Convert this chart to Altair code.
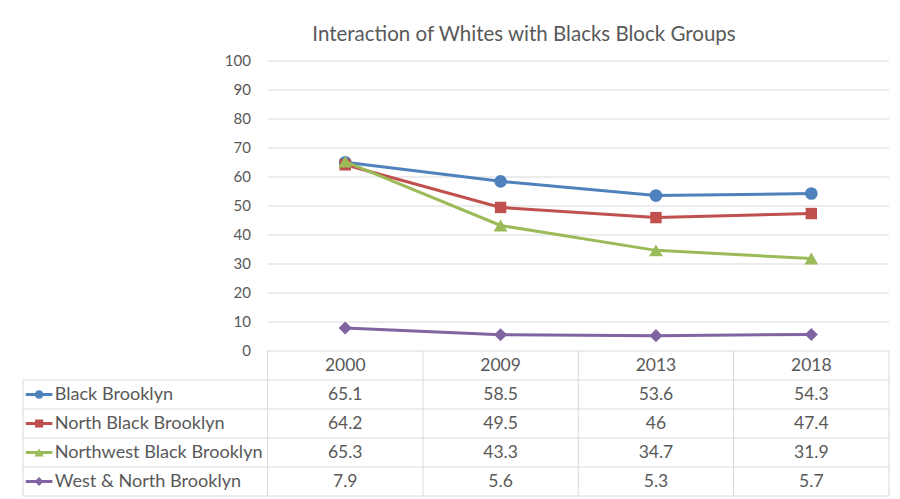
import altair as alt
import pandas as pd

# ---- data ----
years = ["2000", "2009", "2013", "2018"]
series = ["Black Brooklyn", "North Black Brooklyn", "Northwest Black Brooklyn", "West & North Brooklyn"]
black_brooklyn = [65.1, 58.5, 53.6, 54.3]
north_black_brooklyn = [64.2, 49.5, 46, 47.4]
northwest_black_brooklyn = [65.3, 43.3, 34.7, 31.9]
west_north_brooklyn = [7.9, 5.6, 5.3, 5.7]
y_ticks = [0, 10, 20, 30, 40, 50, 60, 70, 80, 90, 100]
title_text = "Interaction of Whites with Blacks Block Groups"

values = [black_brooklyn, north_black_brooklyn, northwest_black_brooklyn, west_north_brooklyn]
colors = ["#4F81BD", "#C0504D", "#9BBB59", "#8064A2"]
shapes = ["circle", "square", "triangle-up", "diamond"]
sizes = [160, 130, 190, 170]
key_sizes = [75, 65, 90, 80]

# ---- layout in scale units: each year column is 1 unit wide, each table row is 10 units tall ----
X_MIN, X_MAX = -1.574, 4.0
Y_MIN, Y_MAX = -50, 100
ROW_H = 10
FONT = "Lato"
TXT = "#595959"
GRID = "#D9D9D9"

xs = alt.Scale(domain=[X_MIN, X_MAX], nice=False, zero=False)
ys = alt.Scale(domain=[Y_MIN, Y_MAX], nice=False, zero=False)

def X(field="x"):
    return alt.X(f"{field}:Q", scale=xs, axis=None)

def Y(field="y"):
    return alt.Y(f"{field}:Q", scale=ys, axis=None)

layers = []

# gridlines of the plot area
grid_df = pd.DataFrame({"y": [t for t in y_ticks if t > 0], "x": 0.0, "x2": float(len(years))})
layers.append(alt.Chart(grid_df).mark_rule(color=GRID, strokeWidth=1).encode(x=X(), x2="x2:Q", y=Y()))

# y-axis labels
ylab_df = pd.DataFrame({"y": y_ticks, "x": -0.1075, "t": [str(t) for t in y_ticks]})
layers.append(alt.Chart(ylab_df).mark_text(align="right", baseline="middle", font=FONT, fontSize=15, color=TXT)
              .encode(x=X(), y=Y(), text="t:N"))

# data table grid
n = len(years)
h_rows = [(0.0, float(n), 0.0)] + [(X_MIN, float(n), float(-ROW_H * (k + 1))) for k in range(len(series) + 1)]
hdf = pd.DataFrame(h_rows, columns=["x", "x2", "y"])
layers.append(alt.Chart(hdf).mark_rule(color=GRID, strokeWidth=1).encode(x=X(), x2="x2:Q", y=Y()))
v_rows = [(float(i), 0.0, float(-ROW_H * (len(series) + 1))) for i in range(n + 1)]
v_rows.append((X_MIN, float(-ROW_H), float(-ROW_H * (len(series) + 1))))
vdf = pd.DataFrame(v_rows, columns=["x", "y", "y2"])
layers.append(alt.Chart(vdf).mark_rule(color=GRID, strokeWidth=1).encode(x=X(), y=Y(), y2="y2:Q"))

# header years
hdr = pd.DataFrame({"x": [i + 0.5 for i in range(n)], "y": -ROW_H / 2, "t": years})
layers.append(alt.Chart(hdr).mark_text(baseline="middle", font=FONT, fontSize=17.5, color=TXT)
              .encode(x=X(), y=Y(), text="t:N"))

# table values and row labels
cells = []
for r, (s, vals) in enumerate(zip(series, values)):
    for i, v in enumerate(vals):
        cells.append({"x": i + 0.5, "y": -ROW_H * (r + 1.5), "t": f"{v:g}"})
cdf = pd.DataFrame(cells)
layers.append(alt.Chart(cdf).mark_text(baseline="middle", font=FONT, fontSize=17.5, color=TXT)
              .encode(x=X(), y=Y(), text="t:N"))
ldf = pd.DataFrame({"x": -1.37, "y": [-ROW_H * (r + 1.5) for r in range(len(series))], "t": series})
layers.append(alt.Chart(ldf).mark_text(align="left", baseline="middle", font=FONT, fontSize=18.1, color=TXT)
              .encode(x=X(), y=Y(), text="t:N"))

# series lines + markers, and legend keys in the table
for r, (s, vals) in enumerate(zip(series, values)):
    df = pd.DataFrame({"x": [i + 0.5 for i in range(n)], "y": vals})
    layers.append(alt.Chart(df).mark_line(color=colors[r], strokeWidth=3).encode(x=X(), y=Y()))
    layers.append(alt.Chart(df).mark_point(shape=shapes[r], filled=True, size=sizes[r], color=colors[r], opacity=1)
                  .encode(x=X(), y=Y()))
    ky = -ROW_H * (r + 1.5)
    kdf = pd.DataFrame({"x": [-1.556], "x2": [-1.385], "y": [ky]})
    layers.append(alt.Chart(kdf).mark_rule(color=colors[r], strokeWidth=3).encode(x=X(), x2="x2:Q", y=Y()))
    pdf = pd.DataFrame({"x": [-1.4705], "y": [ky]})
    layers.append(alt.Chart(pdf).mark_point(shape=shapes[r], filled=True, size=key_sizes[r], color=colors[r], opacity=1)
                  .encode(x=X(), y=Y()))

chart = alt.layer(*layers).properties(
    width=866,
    height=435,
    title=alt.TitleParams(text=title_text, anchor="middle", frame="group", dx=68, dy=28, offset=21,
                          baseline="alphabetic", font=FONT, fontSize=20.5, fontWeight="normal", color=TXT),
    autosize=alt.AutoSizeParams(type="none"),
    padding={"left": 15, "top": 53, "right": 3, "bottom": 3},
).configure(background="white").configure_view(stroke=None)

chart.save("out.html", embed_options={"renderer": "svg", "actions": False})
